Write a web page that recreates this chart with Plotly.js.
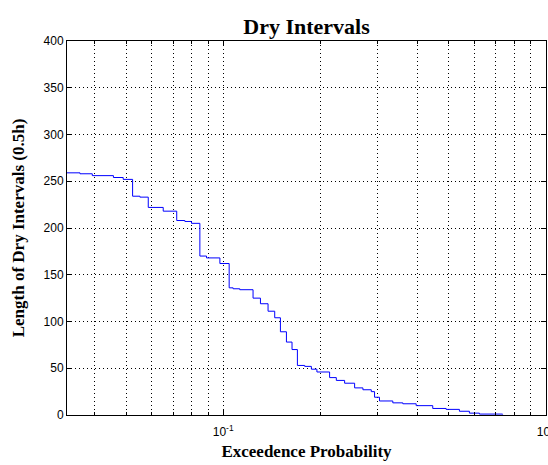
<!DOCTYPE html>
<html>
<head>
<meta charset="utf-8">
<script src="https://cdn.plot.ly/plotly-3.0.1.min.js"></script>
<style>html,body{margin:0;padding:0;background:#fff;}#chart{width:548px;height:465px;}</style>
</head>
<body>
<div id="chart"></div>
<script>
// Exceedance probability (left end of each step) and dry interval length (0.5h units)
var exceedProb = [0.0325, 0.0360, 0.0393, 0.0457, 0.0490, 0.0524, 0.0552, 0.0586, 0.0652, 0.0718,
  0.0761, 0.0798, 0.0847, 0.0888, 0.0977, 0.1044, 0.1074, 0.1126, 0.1238, 0.1305,
  0.1378, 0.1445, 0.1505, 0.1571, 0.1635, 0.1699, 0.1790, 0.1877, 0.1953, 0.2138,
  0.2243, 0.2380, 0.2556, 0.2712, 0.2879, 0.2947, 0.3053, 0.3357, 0.3606, 0.3966,
  0.4464, 0.4911, 0.5400, 0.5799, 0.6228, 0.7350];
var dryLength = [259, 258, 256, 254, 252, 234, 233, 222, 218, 208,
  207, 205, 170, 168, 162, 136, 135, 134, 125, 119,
  111, 104, 89, 78, 70, 53, 52, 49, 46, 40,
  37, 34, 29, 27, 25, 19, 15, 13, 12, 10,
  7, 6, 4, 2, 1, 0.5];

var xMajorVals = [0.1, 1];
var xMajorText = ['10<sup>-1</sup>', '10<sup>0</sup>'];
var xMinorVals = [0.04, 0.05, 0.06, 0.07, 0.08, 0.09, 0.2, 0.3, 0.4, 0.5, 0.6, 0.7, 0.8, 0.9];
var yTickVals = [0, 50, 100, 150, 200, 250, 300, 350, 400];

var trace = {
  x: exceedProb,
  y: dryLength,
  type: 'scatter',
  mode: 'lines',
  line: {color: '#0000ff', width: 1, shape: 'hv'},
  hoverinfo: 'x+y'
};

var serif = 'Liberation Serif, Times New Roman, serif';
var sans = 'Liberation Sans, Arial, sans-serif';
var dotted = '1px,3px';

var layout = {
  width: 548,
  height: 465,
  margin: {l: 67, r: 2, t: 41, b: 50},
  paper_bgcolor: '#ffffff',
  plot_bgcolor: '#ffffff',
  showlegend: false,
  title: {
    text: '<b>Dry Intervals</b>',
    font: {family: serif, size: 22, color: '#000'},
    x: 0.5, xref: 'paper', xanchor: 'center',
    y: 1, yref: 'paper', yanchor: 'bottom', pad: {b: 7}
  },
  xaxis: {
    type: 'log',
    range: [-1.484, 0.0008],
    tickmode: 'array',
    tickvals: xMajorVals,
    ticktext: xMajorText,
    ticks: 'inside',
    ticklen: 5,
    tickcolor: '#000',
    tickfont: {family: sans, size: 12, color: '#000'},
    ticklabelstandoff: 6,
    ticklabeloverflow: 'allow',
    showline: true,
    linecolor: '#000',
    linewidth: 1,
    mirror: 'allticks',
    showgrid: true,
    gridcolor: '#000',
    griddash: dotted,
    gridwidth: 1,
    zeroline: false,
    minor: {
      tickmode: 'array',
      tickvals: xMinorVals,
      ticks: 'inside',
      ticklen: 3,
      tickcolor: '#000',
      showgrid: true,
      gridcolor: '#000',
      griddash: dotted,
      gridwidth: 1
    },
    title: {text: '<b>Exceedence Probability</b>', font: {family: serif, size: 17, color: '#000'}, standoff: 6}
  },
  yaxis: {
    range: [0, 400],
    tickmode: 'array',
    tickvals: yTickVals,
    ticks: 'inside',
    ticklen: 5,
    tickcolor: '#000',
    tickfont: {family: sans, size: 12, color: '#000'},
    showline: true,
    linecolor: '#000',
    linewidth: 1,
    mirror: 'allticks',
    showgrid: true,
    gridcolor: '#000',
    griddash: dotted,
    gridwidth: 1,
    zeroline: false,
    title: {text: '<b>Length of Dry Intervals (0.5h)</b>', font: {family: serif, size: 17, color: '#000'}, standoff: 14}
  }
};

Plotly.newPlot('chart', [trace], layout, {displayModeBar: false, staticPlot: true});
</script>
</body>
</html>
